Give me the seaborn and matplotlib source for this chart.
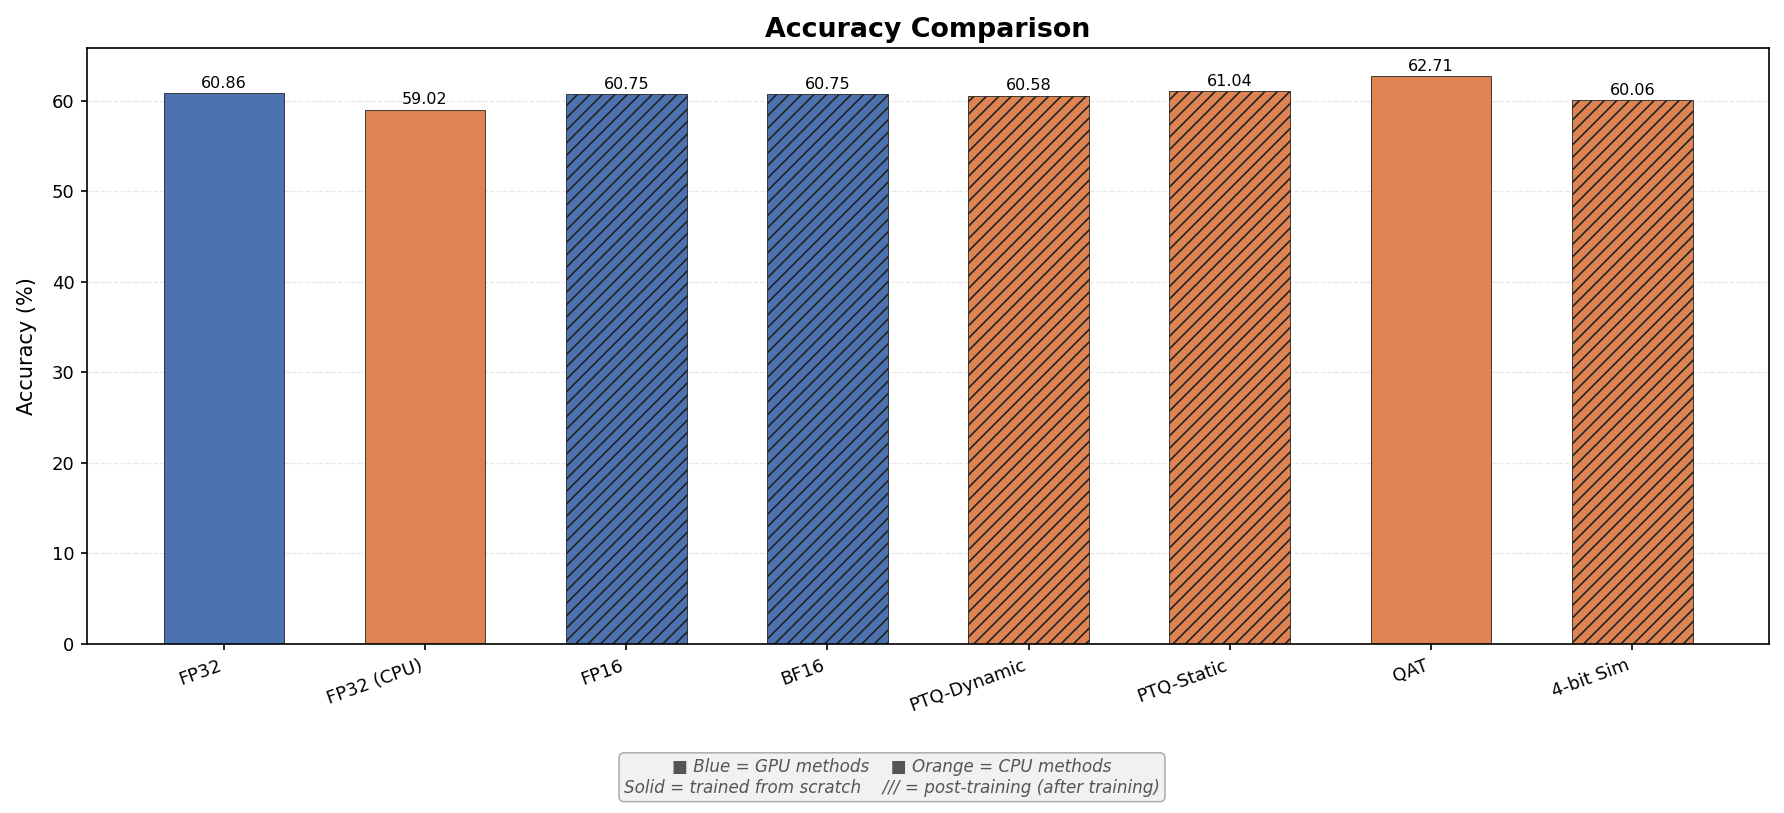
import numpy as np
import matplotlib
matplotlib.use("Agg")
import matplotlib.pyplot as plt
import seaborn as sns
import pandas as pd

# values
methods = ["FP32", "FP32 (CPU)", "FP16", "BF16", "PTQ-Dynamic", "PTQ-Static", "QAT", "4-bit Sim"]
accuracy = [60.86, 59.02, 60.75, 60.75, 60.58, 61.04, 62.71, 60.06]
device = ["GPU", "CPU", "GPU", "GPU", "CPU", "CPU", "CPU", "CPU"]
post_training = [False, False, True, True, True, True, False, True]

palette = {"GPU": "#4C72B0", "CPU": "#DD8452"}

df = pd.DataFrame({"method": methods, "acc": accuracy, "device": device})

DPI = 112
S = 100 / DPI  # sizes below were tuned at 100 dpi

plt.rcParams["hatch.linewidth"] = 1.2 * S
plt.rcParams["axes.linewidth"] = 1.2 * S

fig = plt.figure(figsize=(1784 / DPI, 813 / DPI), dpi=DPI)
ax = fig.add_axes([0.0488, 0.208, 0.9428, 0.733])

sns.barplot(data=df, x="method", y="acc", hue="device", palette=palette,
            dodge=False, width=0.6, legend=False, edgecolor="#222222",
            linewidth=0.6 * S, saturation=1, ax=ax)

# hatch the post-training bars
for p in ax.patches:
    idx = int(round(p.get_x() + p.get_width() / 2))
    if 0 <= idx < len(methods) and post_training[idx]:
        p.set_hatch("///")

# value labels
for i, v in enumerate(accuracy):
    ax.text(i, v + 0.25, f"{v:.2f}", ha="center", va="bottom", fontsize=11.5 * S)

ax.set_ylim(0, max(accuracy) * 1.05)
ax.set_xlim(-0.68, len(methods) - 1 + 0.68)
ax.set_xlabel("")
ax.set_ylabel("Accuracy (%)", fontsize=15 * S, labelpad=11 * S)
ax.set_title("Accuracy Comparison", fontsize=19.4 * S, fontweight="bold", pad=8 * S)
ax.set_xticks(range(len(methods)))
ax.set_xticklabels(methods, rotation=20, ha="right", fontsize=13 * S)
ax.tick_params(axis="y", labelsize=13 * S)
ax.tick_params(width=1.2 * S, length=4.5 * S, pad=4.5 * S)
ax.yaxis.grid(True, linestyle="--", alpha=0.3)
ax.set_axisbelow(True)

fig.text(0.5, 0.044,
         "\u25A0 Blue = GPU methods    \u25A0 Orange = CPU methods\n"
         "Solid = trained from scratch    /// = post-training (after training)",
         ha="center", va="center", fontsize=12.1 * S, style="italic", color="#555555",
         multialignment="center",
         bbox=dict(boxstyle="round", facecolor="lightgray", alpha=0.3))

fig.savefig("out.png", dpi=DPI)
